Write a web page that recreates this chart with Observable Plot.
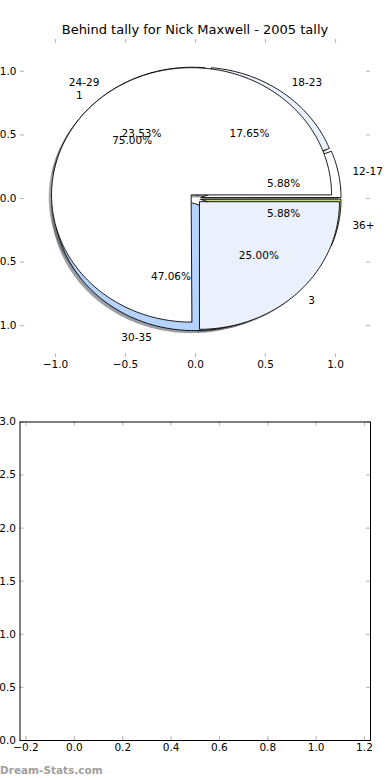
<!DOCTYPE html>
<html>
<head>
<meta charset="utf-8">
<script src="https://cdn.jsdelivr.net/npm/d3@7"></script>
<script src="https://cdn.jsdelivr.net/npm/@observablehq/plot@0.6"></script>
<style>
  body { margin: 0; background: #ffffff; }
  #wrap { position: relative; width: 390px; height: 780px; font-family: "DejaVu Sans", sans-serif; }
  #topChart, #bottomChart { position: absolute; left: 0; }
  #topChart { top: 0; }
  #bottomChart { top: 380px; }
  #title { position: absolute; top: 22px; left: 0; width: 390px; text-align: center; font-size: 13px; line-height: 16px; color: #000; }
  #wm { position: absolute; top: 762px; left: 0; font-size: 10.5px; font-weight: bold; color: #a0a0a0; line-height: 16px; }
</style>
</head>
<body>
<div id="wrap">
  <div id="topChart"></div>
  <div id="bottomChart"></div>
  <div id="title">Behind tally for Nick Maxwell - 2005 tally</div>
  <div id="wm">Dream-Stats.com</div>
</div>
<script>
// ---- data ----
const ageLabels = ["12-17", "18-23", "24-29", "30-35", "36+"];
const ageCounts = [1, 3, 4, 8, 1];
const ageColors = ["#ffffff", "#eaf1fc", "#ffffff", "#b5d3fc", "#c3dd80"];

const tallyLabels = ["1", "3"];
const tallyCounts = [3, 1];
const tallyColors = ["#ffffff", "#eaf1fc"];

const topTicks = [-1.0, -0.5, 0.0, 0.5, 1.0];
const bottomXTicks = [-0.2, 0.0, 0.2, 0.4, 0.6, 0.8, 1.0, 1.2];
const bottomYTicks = [0.0, 0.5, 1.0, 1.5, 2.0, 2.5, 3.0];

// ---- pie geometry (matplotlib-style: start 0°, counter-clockwise) ----
const EXPLODE = 0.04, SHADOW = -0.02, LABEL_D = 1.1, PCT_D = 0.6;
function buildPie(labels, values, colors) {
  const total = d3.sum(values);
  let a = 0;
  return values.map((v, i) => {
    const t1 = a, t2 = a + 360 * v / total;
    a = t2;
    const mid = (t1 + t2) / 2 * Math.PI / 180;
    const cx = EXPLODE * Math.cos(mid), cy = EXPLODE * Math.sin(mid);
    const pts = [{x: cx, y: cy}];
    const n = Math.max(2, Math.ceil(t2 - t1));
    for (let k = 0; k <= n; k++) {
      const t = (t1 + (t2 - t1) * k / n) * Math.PI / 180;
      pts.push({x: cx + Math.cos(t), y: cy + Math.sin(t)});
    }
    const c = d3.rgb(colors[i]);
    return {
      pts,
      shadow: pts.map(p => ({x: p.x + SHADOW, y: p.y + SHADOW})),
      color: colors[i],
      shadowColor: d3.rgb(c.r * 0.3, c.g * 0.3, c.b * 0.3).formatHex(),
      label: labels[i],
      lx: cx + LABEL_D * Math.cos(mid), ly: cy + LABEL_D * Math.sin(mid),
      pct: (100 * v / total).toFixed(2) + "%",
      px: cx + PCT_D * Math.cos(mid), py: cy + PCT_D * Math.sin(mid)
    };
  });
}
const agePie = buildPie(ageLabels, ageCounts, ageColors);
const tallyPie = buildPie(tallyLabels, tallyCounts, tallyColors);
const wedges = [...agePie, ...tallyPie];

const fmt = d => d.toFixed(1).replace("-", "\u2212");
const TICK = "#bdbdbd";
const FS = 10.5;

function inwardTicks(xTicks, yTicks, xd, yd) {
  return [
    Plot.ruleX(xTicks, {x: d => d, y1: yd[0], y2: yd[0], insetTop: -4, stroke: TICK, strokeWidth: 1.2}),
    Plot.ruleX(xTicks, {x: d => d, y1: yd[1], y2: yd[1], insetBottom: -4, stroke: TICK, strokeWidth: 1.2}),
    Plot.ruleY(yTicks, {y: d => d, x1: xd[0], x2: xd[0], insetRight: -4, stroke: TICK, strokeWidth: 1.2}),
    Plot.ruleY(yTicks, {y: d => d, x1: xd[1], x2: xd[1], insetLeft: -4, stroke: TICK, strokeWidth: 1.2})
  ];
}

// ---- top chart: two overlaid pies ----
const topXD = [-1.25, 1.25], topYD = [-1.25, 1.25];
const topChart = Plot.plot({
  width: 390, height: 380,
  marginLeft: 20, marginRight: 20, marginTop: 39, marginBottom: 23,
  x: {domain: topXD},
  y: {domain: topYD},
  style: {fontFamily: "DejaVu Sans", fontSize: FS + "px", background: "transparent", overflow: "visible"},
  marks: [
    ...wedges.map(w => Plot.line(w.shadow, {x: "x", y: "y", curve: "linear-closed", fill: w.shadowColor, fillOpacity: 0.5, stroke: "none"})),
    ...wedges.map(w => Plot.line(w.pts, {x: "x", y: "y", curve: "linear-closed", fill: w.color, stroke: "#000", strokeWidth: 0.9})),
    Plot.text(wedges.filter(w => w.lx > 0), {x: "lx", y: "ly", text: "label", textAnchor: "start", fill: "#000", fontSize: FS}),
    Plot.text(wedges.filter(w => w.lx <= 0), {x: "lx", y: "ly", text: "label", textAnchor: "end", fill: "#000", fontSize: FS}),
    Plot.text(wedges, {x: "px", y: "py", text: "pct", fill: "#000", fontSize: FS}),
    ...inwardTicks(topTicks, topTicks, topXD, topYD),
    Plot.axisX({ticks: topTicks, tickFormat: fmt, tickSize: 0, tickPadding: 3, label: null, fontSize: FS}),
    Plot.axisY({ticks: topTicks, tickFormat: fmt, tickSize: 0, tickPadding: 4, label: null, fontSize: FS})
  ]
});
document.getElementById("topChart").appendChild(topChart);

// ---- bottom chart: empty axes ----
const botXD = [-0.225, 1.225], botYD = [0, 3];
const bottomChart = Plot.plot({
  width: 390, height: 400,
  marginLeft: 19.5, marginRight: 20, marginTop: 41.5, marginBottom: 40,
  x: {domain: botXD},
  y: {domain: botYD},
  style: {fontFamily: "DejaVu Sans", fontSize: FS + "px", background: "transparent", overflow: "visible"},
  marks: [
    ...inwardTicks(bottomXTicks, bottomYTicks, botXD, botYD),
    Plot.frame({stroke: "#000", strokeWidth: 1}),
    Plot.axisX({ticks: bottomXTicks, tickFormat: fmt, tickSize: 0, tickPadding: 3, label: null, fontSize: FS}),
    Plot.axisY({ticks: bottomYTicks, tickFormat: fmt, tickSize: 0, tickPadding: 4, label: null, fontSize: FS})
  ]
});
document.getElementById("bottomChart").appendChild(bottomChart);
</script>
</body>
</html>
